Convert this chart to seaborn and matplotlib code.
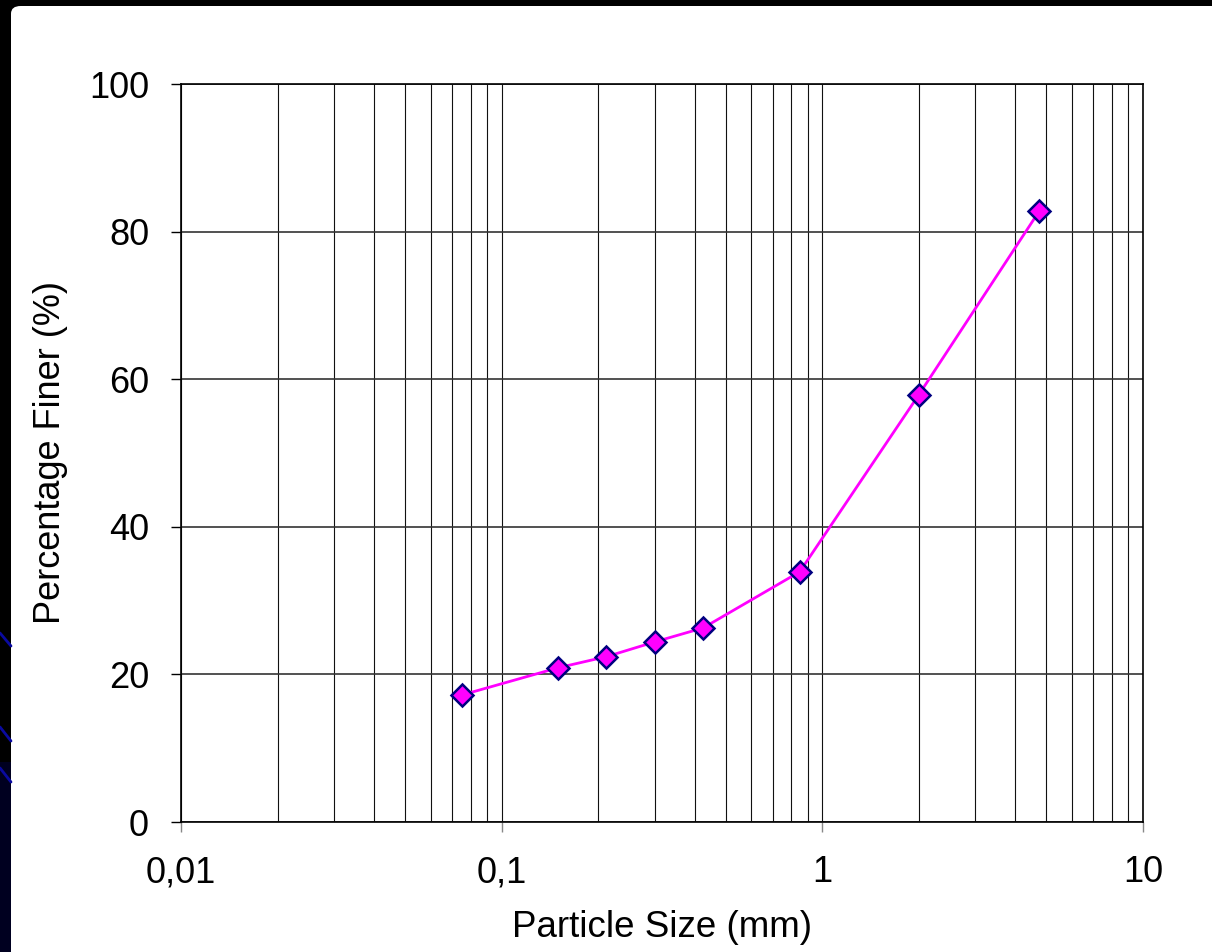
import numpy as np
import pandas as pd
import matplotlib
matplotlib.use("Agg")
import matplotlib.pyplot as plt
import seaborn as sns
from matplotlib.patches import FancyBboxPatch, Rectangle
from matplotlib.lines import Line2D
from matplotlib.ticker import FixedLocator, FixedFormatter, NullFormatter, LogLocator

# Sieve analysis results
particle_size_mm = [0.075, 0.15, 0.212, 0.30, 0.425, 0.85, 2.0, 4.75]
percent_finer = [17.2, 20.9, 22.4, 24.4, 26.3, 33.9, 57.9, 82.8]

x_ticks = [0.01, 0.1, 1, 10]
x_tick_labels = ["0,01", "0,1", "1", "10"]
y_ticks = [0, 20, 40, 60, 80, 100]

df = pd.DataFrame({"size": particle_size_mm, "finer": percent_finer})

sns.set_theme(style="white")
plt.rcParams["font.family"] = ["Liberation Sans", "DejaVu Sans"]

fig = plt.figure(figsize=(12.12, 9.52), dpi=100)
fig.patch.set_facecolor("black")

# white slide panel with rounded corner
panel = FancyBboxPatch((11 / 1212, -0.05), 1.2, 1.05 - 6 / 952,
                       boxstyle="round,pad=0,rounding_size=0.008",
                       transform=fig.transFigure, facecolor="white",
                       edgecolor="none", zorder=-2)
fig.patches.append(panel)

# navy tint at lower left strip
fig.patches.append(Rectangle((0, 0), 11 / 1212, 0.2, transform=fig.transFigure,
                             facecolor="#000020", edgecolor="none", zorder=-2))
for y0, y1 in [(633, 646), (727, 741), (768, 782)]:
    fig.lines.append(Line2D([0, 11 / 1212], [1 - y0 / 952, 1 - y1 / 952],
                            transform=fig.transFigure, color="#0a0aa0", lw=2,
                            zorder=-1))

ax = fig.add_axes([181 / 1212, 1 - 822 / 952, (1143 - 181) / 1212, (822 - 84) / 952])
ax.set_zorder(5)
ax.set_facecolor("white")

sns.lineplot(data=df, x="size", y="finer", ax=ax, color="#ff00ff", lw=2.0,
             marker="D", markersize=11.5, markerfacecolor="#ff00ff",
             markeredgecolor="#000080", markeredgewidth=1.8, zorder=5)

ax.set_xscale("log")
ax.set_xlim(0.01, 10)
ax.set_ylim(0, 100)

ax.xaxis.set_major_locator(FixedLocator(x_ticks))
ax.xaxis.set_major_formatter(FixedFormatter(x_tick_labels))
ax.xaxis.set_minor_locator(LogLocator(base=10, subs=np.arange(2, 10)))
ax.xaxis.set_minor_formatter(NullFormatter())
ax.set_yticks(y_ticks)

ax.grid(True, which="major", axis="y", color="#333333", lw=1.2)
ax.grid(True, which="both", axis="x", color="#111111", lw=0.8)

ax.tick_params(axis="both", which="major", direction="out", length=7,
               width=1, color="black", labelsize=26, pad=16, labelcolor="black",
               bottom=True, left=True)
ax.tick_params(axis="x", which="minor", length=0)
ax.tick_params(axis="x", which="major", pad=17, color="#888888")

for s in ax.spines.values():
    s.set_color("black")
    s.set_linewidth(1.2)
    s.set_visible(True)

ax.set_xlabel("Particle Size (mm)", fontsize=26.5, color="black", labelpad=14)
ax.set_ylabel("Percentage Finer (%)", fontsize=26, color="black", labelpad=15)

fig.savefig("out.png", dpi=100, facecolor=fig.get_facecolor())
